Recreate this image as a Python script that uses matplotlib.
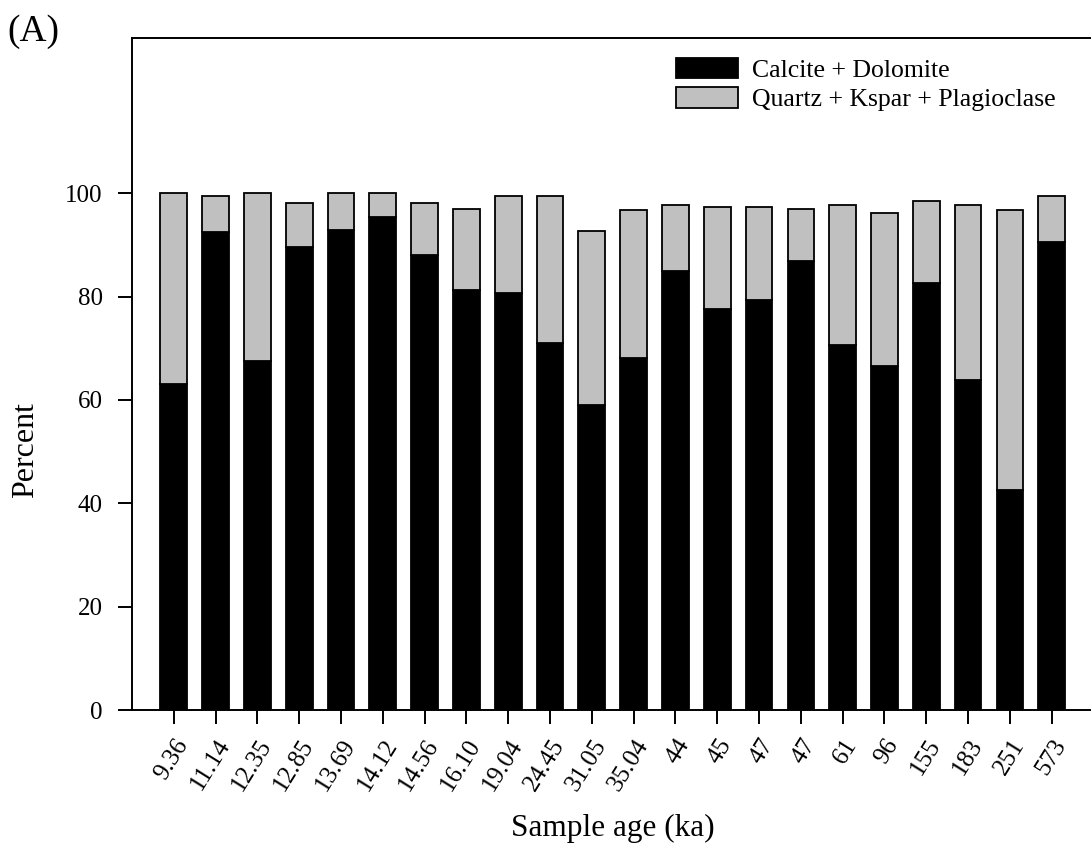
import matplotlib
matplotlib.use("Agg")
import matplotlib.pyplot as plt
import numpy as np

# Sample ages (ka) used as category labels
ages = ["9.36", "11.14", "12.35", "12.85", "13.69", "14.12", "14.56", "16.10",
        "19.04", "24.45", "31.05", "35.04", "44", "45", "47", "47", "61", "96",
        "155", "183", "251", "573"]

# Carbonate fraction (%)
carbonate = [63.1, 92.5, 67.6, 89.5, 92.9, 95.3, 88.0, 81.2, 80.7, 71.0, 59.0,
             68.2, 85.0, 77.6, 79.3, 86.9, 70.7, 66.5, 82.6, 63.8, 42.5, 90.5]

# Silicate fraction (%)
silicate = [36.9, 7.0, 32.4, 8.7, 7.1, 4.7, 10.2, 15.7, 18.8, 28.5, 33.7,
            28.6, 12.8, 19.8, 18.1, 10.0, 27.1, 29.7, 15.8, 34.0, 54.2, 9.0]

plt.rcParams["font.family"] = ["Liberation Serif", "DejaVu Serif"]

fig = plt.figure(figsize=(10.91, 8.48), dpi=100)
ax = fig.add_axes([0.121, 0.1627, 0.8813, 0.7923])

x = np.arange(len(ages))
ax.bar(x, carbonate, width=0.64, color="black", edgecolor="black",
       linewidth=1.3, label="Calcite + Dolomite")
ax.bar(x, silicate, width=0.64, bottom=carbonate, color="#c0c0c0",
       edgecolor="black", linewidth=1.3, label="Quartz + Kspar + Plagioclase")

ax.set_xlim(-1, len(ages))
ax.set_ylim(0, 130)
ax.set_yticks([0, 20, 40, 60, 80, 100])
ax.set_xticks(x)
ax.set_xticklabels(ages, rotation=58, ha="right", rotation_mode="anchor")

ax.tick_params(axis="both", direction="out", length=10, width=1.4,
               labelsize=18)
ax.tick_params(axis="y", pad=11)
ax.tick_params(axis="x", pad=8)
for side in ("left", "bottom", "top"):
    ax.spines[side].set_linewidth(1.4)
ax.spines["right"].set_visible(False)

ax.set_ylabel("Percent", fontsize=23)
ax.yaxis.set_label_coords(-0.096, 0.387)
ax.set_xlabel("Sample age (ka)", fontsize=22.5, labelpad=14)

ax.legend(loc="upper left", bbox_to_anchor=(0.555, 0.986), frameon=False,
          fontsize=18.5, handlelength=2.4, handleheight=0.85,
          handletextpad=0.55, labelspacing=0.2, borderaxespad=0)

fig.text(0.007, 0.983, "(A)", fontsize=27, va="top", ha="left")

fig.savefig("out.png", dpi=100)
